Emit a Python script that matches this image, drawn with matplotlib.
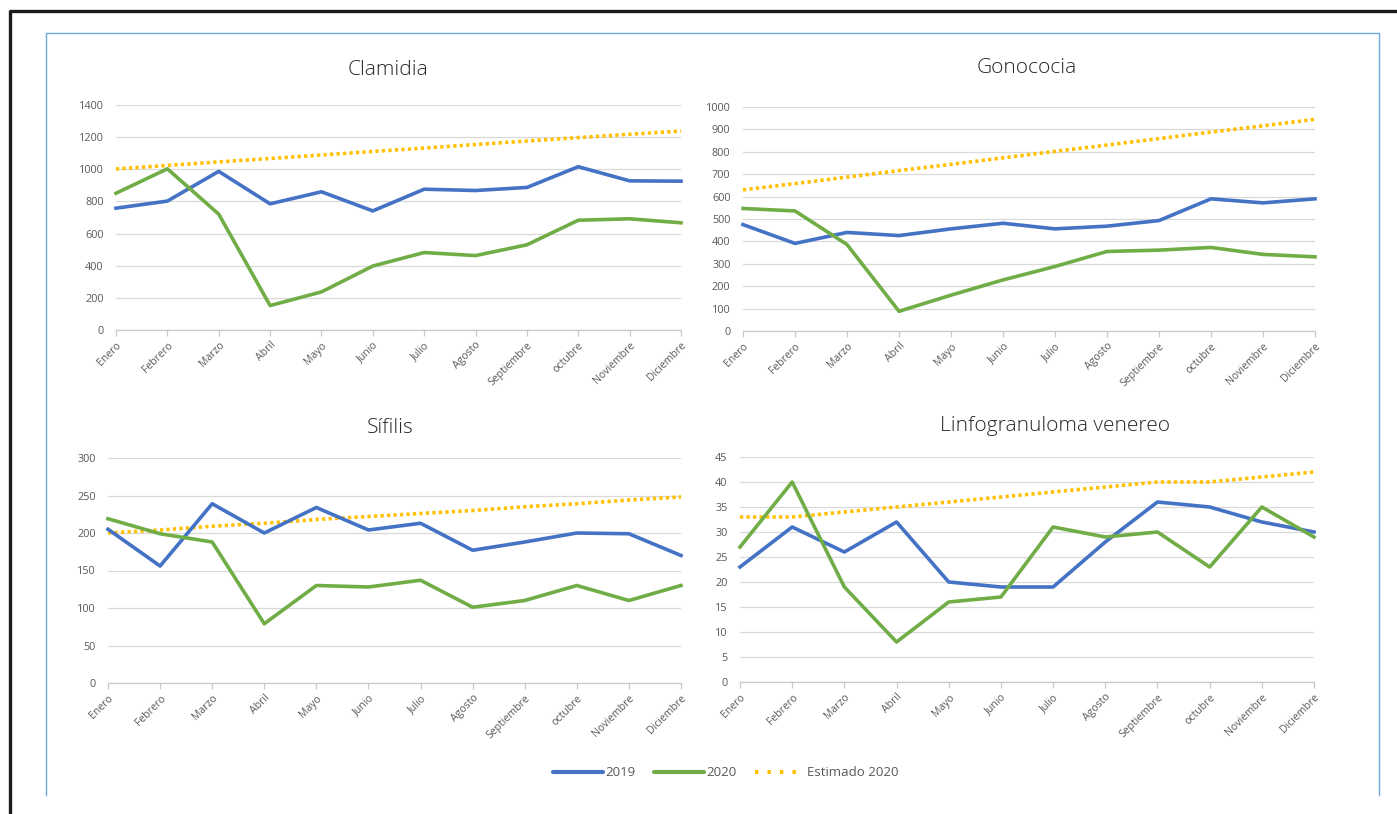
import matplotlib
matplotlib.use("Agg")
import matplotlib.pyplot as plt
from matplotlib.lines import Line2D

plt.rcParams['font.family'] = ['Open Sans', 'DejaVu Sans']

meses = ["Enero", "Febrero", "Marzo", "Abril", "Mayo", "Junio", "Julio",
         "Agosto", "Septiembre", "octubre", "Noviembre", "Diciembre"]

clamidia_2019 = [758, 802, 987, 785, 860, 741, 876, 868, 887, 1016, 928, 926]
clamidia_2020 = [851, 1003, 721, 152, 237, 398, 482, 463, 530, 683, 692, 667]
clamidia_est = [1002, 1024, 1046, 1067, 1089, 1111, 1132, 1154, 1176, 1197, 1218, 1238]

gonococia_2019 = [475, 391, 440, 426, 456, 481, 456, 468, 493, 590, 572, 590]
gonococia_2020 = [547, 536, 386, 88, 160, 228, 288, 355, 361, 373, 342, 331]
gonococia_est = [630, 658, 687, 716, 744, 773, 802, 830, 859, 888, 916, 945]

sifilis_2019 = [205, 156, 239, 200, 234, 204, 213, 177, 188, 200, 199, 170]
sifilis_2020 = [219, 199, 188, 79, 130, 128, 137, 101, 110, 130, 110, 130]
sifilis_est = [200, 204, 209, 213, 218, 222, 226, 230, 235, 239, 244, 248]

lgv_2019 = [23, 31, 26, 32, 20, 19, 19, 28, 36, 35, 32, 30]
lgv_2020 = [27, 40, 19, 8, 16, 17, 31, 29, 30, 23, 35, 29]
lgv_est = [33, 33, 34, 35, 36, 37, 38, 39, 40, 40, 41, 42]

panels = [
    ("Clamidia", clamidia_2019, clamidia_2020, clamidia_est, 1400, 200,
     (116, 681, 105, 330), (388, 70)),
    ("Gonococia", gonococia_2019, gonococia_2020, gonococia_est, 1000, 100,
     (743, 1315, 107, 331), (1027, 68)),
    ("Sífilis", sifilis_2019, sifilis_2020, sifilis_est, 300, 50,
     (108, 681, 458, 683), (390, 428)),
    ("Linfogranuloma venereo", lgv_2019, lgv_2020, lgv_est, 45, 5,
     (740, 1314, 457, 682), (1055, 426)),
]

W, H = 1397, 814
fig = plt.figure(figsize=(W / 100, H / 100), dpi=100)
fig.patch.set_facecolor("white")

C19 = "#4472C4"
C20 = "#70AD47"
CEST = "#FFC000"
GRAY = "#595959"

def fx(px):
    return px / W

def fy(py):
    return 1 - py / H

for title, s19, s20, est, ymax, step, (x0, x1, yt, yb), (tx, ty) in panels:
    ax = fig.add_axes([fx(x0), fy(yb), (x1 - x0) / W, (yb - yt) / H])
    x = list(range(len(meses)))
    ax.plot(x, est, color=CEST, lw=2.6, linestyle=(0, (0.9, 0.9)), clip_on=False, zorder=3)
    ax.plot(x, s19, color=C19, lw=2.6, clip_on=False, zorder=4, solid_joinstyle="round")
    ax.plot(x, s20, color=C20, lw=2.6, clip_on=False, zorder=5, solid_joinstyle="round")
    ax.set_xlim(0, len(meses) - 1)
    ax.set_ylim(0, ymax)
    ax.set_yticks(list(range(0, ymax + 1, step)))
    ax.grid(axis="y", color="#d9d9d9", lw=0.9)
    ax.set_axisbelow(True)
    for s in ["top", "right", "left"]:
        ax.spines[s].set_visible(False)
    ax.spines["bottom"].set_color("#c8c8c8")
    ax.spines["bottom"].set_linewidth(0.9)
    ax.tick_params(axis="y", length=0, labelsize=7.8, labelcolor=GRAY, pad=9)
    ax.tick_params(axis="x", length=4, color="#c8c8c8", width=0.9, labelsize=7.6,
                   labelcolor=GRAY, pad=3)
    ax.set_xticks(x)
    ax.set_xticklabels(meses, rotation=45, ha="right", rotation_mode="anchor")
    ax.set_facecolor("none")
    fig.text(fx(tx), fy(ty), title, fontsize=15, color="#262626", ha="center",
             va="center", fontweight="light")

# outer black frame (left and top)
fig.add_artist(Line2D([fx(9.5), fx(9.5), fx(1397)], [fy(814), fy(11), fy(11)],
                      color="#1a1a1a", lw=2.4, transform=fig.transFigure))
# inner blue frame
fig.add_artist(Line2D([fx(46), fx(46), fx(1378.5), fx(1378.5)],
                      [fy(795), fy(33), fy(33), fy(795)],
                      color="#6fa8dc", lw=1.0, transform=fig.transFigure))

handles = [Line2D([], [], color=C19, lw=3, solid_capstyle="round"),
           Line2D([], [], color=C20, lw=3, solid_capstyle="round"),
           Line2D([], [], color=CEST, lw=3, linestyle=(0, (0.8, 2.2)))]
leg = fig.legend(handles, ["2019", "2020", "Estimado 2020"], loc="center",
                 bbox_to_anchor=(fx(726), fy(773)), ncol=3, frameon=False,
                 fontsize=9.5, handlelength=3.8, handletextpad=0.15, columnspacing=1.4)
for t in leg.get_texts():
    t.set_color(GRAY)

fig.savefig("out.png", dpi=100, facecolor="white")
